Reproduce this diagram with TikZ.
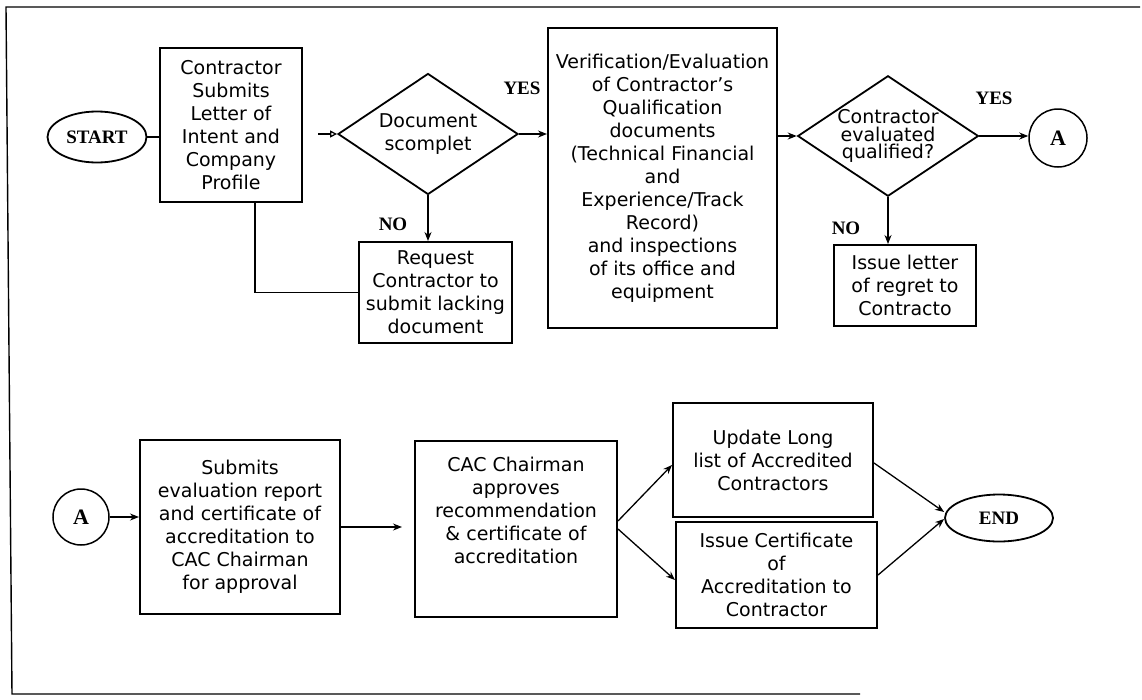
\documentclass[tikz,border=0pt]{standalone}
\usepackage{fontspec}
\setmainfont{DejaVu Sans}
\newfontfamily\labelfont{Liberation Serif}
\usepackage{tikz}
\usetikzlibrary{shapes.geometric,arrows.meta}
\tikzset{
  box/.style={draw, line width=2pt},
  term/.style={draw, ellipse, line width=1.8pt, font=\labelfont\bfseries\fontsize{19}{19}\selectfont},
  dec/.style={draw, diamond, aspect=1.5, line width=1.8pt},
  conn/.style={draw, circle, line width=1.5pt, font=\labelfont\bfseries\fontsize{22}{22}\selectfont},
  lbl/.style={font=\labelfont\bfseries\fontsize{19}{19}\selectfont},
  arr/.style={-{Stealth[length=9pt,width=7pt]}}
}

\begin{document}
\begin{tikzpicture}[x=1pt, y=-1pt, line width=1.3pt,
  every node/.style={font=\fontsize{19}{23}\selectfont, align=center, inner sep=0pt}]
  \useasboundingbox (0,0) rectangle (1142,699);
  \draw[line width=1.4pt] (1140,7) -- (6,7) -- (12,694) -- (860,694);
  \node[term, minimum width=99, minimum height=51] (start) at (97,137) {START};
  \node[box, minimum width=142, minimum height=154] (submit) at (231,125) {Contractor\\Submits\\Letter of\\Intent and\\Company\\Profile};
  \node[dec, minimum width=180, minimum height=121] (complete) at (428,134) {Document\\scomplet};
  \node[box, minimum width=153, minimum height=101] (request) at (435.5,292.5) {Request\\Contractor to\\submit lacking\\document};
  \node[box, minimum width=229, minimum height=300] (verify) at (662.5,178) {Verification/Evaluation\\of Contractor's\\Qualification\\documents\\(Technical Financial\\and\\Experience/Track\\Record)\\and inspections\\of its office and\\equipment};
  \node[dec, minimum width=171, minimum height=116, font=\fontsize{19}{17.5}\selectfont] (qualified) at (888,136) {Contractor\\evaluated\\qualified?};
  \node[conn, minimum size=58] (a1) at (1058,138) {A};
  \node[box, minimum width=142, minimum height=81] (regret) at (905,285.5) {Issue letter\\of regret to\\Contracto};
  \node[conn, minimum size=56] (a2) at (81,517) {A};
  \node[box, minimum width=200, minimum height=174] (report) at (240,527) {Submits\\evaluation report\\and certificate of\\accreditation to\\CAC Chairman\\for approval};
  \node[box, minimum width=202, minimum height=176, text depth=38pt] (approve) at (516,529) {CAC Chairman\\approves\\recommendation\\\& certificate of\\accreditation};
  \node[box, minimum width=200, minimum height=114] (update) at (773,460) {Update Long\\list of Accredited\\Contractors};
  \node[box, minimum width=201, minimum height=106] (cert) at (776.5,575) {Issue Certificate\\of\\Accreditation to\\Contractor};
  \node[term, minimum width=108, minimum height=47] (end) at (999,518) {END};
  \foreach \nm/\x/\y/\t in {yes1/522/88/YES, no1/393/224/NO, yes2/994/98/YES, no2/846/228/NO}
    \node[lbl] (\nm) at (\x,\y) {\t};
  \draw (start.east) -- (start.east -| submit.west);
  \draw[-{Triangle[open,length=7pt,width=7pt]}, shorten <=15pt] (submit.east |- complete.west) -- (complete.west);
  \draw[arr] (complete.east) -- (verify.west |- complete.east);
  \draw[arr] (complete.south) -- (complete.south |- request.north);
  \draw ([xshift=24pt]submit.south) |- (request.west);
  \draw[arr] (verify.east |- qualified.west) -- (qualified.west);
  \draw[arr] (qualified.east) -- (qualified.east -| a1.west);
  \draw[arr] (qualified.south) -- (qualified.south |- regret.north);
  \draw[arr] (a2.east) -- (report.west |- a2.east);
  \draw[arr, shorten >=12pt] (report.east) -- (approve.west |- report.east);
  \draw[arr] ([yshift=8pt]approve.east) -- ([yshift=-5pt]update.west);
  \draw[arr] (approve.east) -- ([yshift=-5pt]cert.west);
  \draw[arr] ([yshift=-3pt]update.east) -- ([yshift=6pt]end.west);
  \draw[arr] (cert.east) -- ([yshift=-1pt]end.west);
\end{tikzpicture}
\end{document}
